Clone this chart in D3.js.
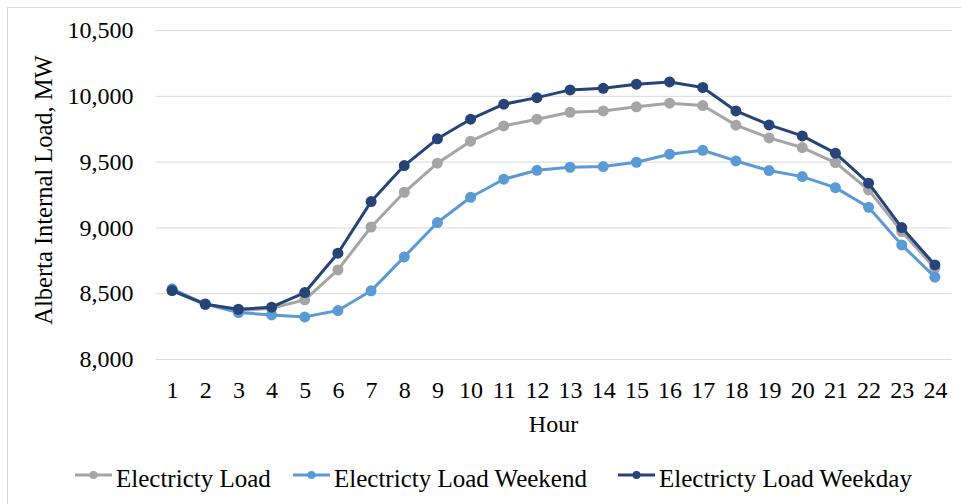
<!DOCTYPE html>
<html>
<head>
<meta charset="utf-8">
<script src="https://cdn.jsdelivr.net/npm/d3@7"></script>
<style>
  html, body { margin: 0; padding: 0; background: #fff; }
  svg { display: block; }
  svg text { font-family: "Liberation Serif", "Times New Roman", serif !important; fill: #000; }
</style>
</head>
<body>
<svg id="chart" width="961" height="504"></svg>
<script>
// Hourly Alberta internal load profile (MW)
const hours = d3.range(1, 25);
const yTicks = [8000, 8500, 9000, 9500, 10000, 10500];

const loadAll = [8522, 8418, 8368, 8385, 8450, 8677, 9003, 9267, 9488, 9655, 9771, 9822,
                 9875, 9885, 9916, 9944, 9926, 9777, 9680, 9607, 9493, 9285, 8968, 8690];
const loadWeekend = [8533, 8418, 8353, 8335, 8320, 8368, 8518, 8776, 9037, 9229, 9366, 9434,
                     9457, 9462, 9495, 9556, 9586, 9505, 9432, 9386, 9302, 9153, 8867, 8622];
const loadWeekday = [8520, 8416, 8378, 8394, 8505, 8804, 9196, 9470, 9673, 9822, 9936, 9986,
                     10045, 10057, 10088, 10105, 10063, 9885, 9779, 9695, 9564, 9336, 8999, 8715];

const seriesNames = ["Electricty Load", "Electricty Load Weekend", "Electricty Load Weekday"];
const seriesValues = [loadAll, loadWeekend, loadWeekday];
const seriesColors = ["#A5A5A5", "#5B9BD5", "#264478"];

const svg = d3.select("#chart");
const plot = { left: 155.5, right: 951.5, top: 30, bottom: 359 };

// outer chart border
svg.append("rect")
  .attr("x", 7.5).attr("y", 7.5)
  .attr("width", 1000).attr("height", 1000)
  .attr("fill", "none").attr("stroke", "#d9d9d9").attr("stroke-width", 1);

const x = d3.scalePoint().domain(hours).range([plot.left, plot.right]).padding(0.5);
const y = d3.scaleLinear().domain([8000, 10500]).range([plot.bottom, plot.top]);

// horizontal gridlines + y tick labels
const yAxis = d3.axisLeft(y).tickValues(yTicks)
  .tickSize(-(plot.right - plot.left))
  .tickPadding(22)
  .tickFormat(d3.format(","));
const gy = svg.append("g").attr("transform", `translate(${plot.left},0)`).call(yAxis)
  .attr("font-family", null).attr("font-size", 24);
gy.select(".domain").remove();
gy.selectAll(".tick line").attr("stroke", "#d9d9d9").attr("stroke-width", 1);

// x tick labels
const xAxis = d3.axisBottom(x).tickSize(0).tickPadding(22);
const gx = svg.append("g").attr("transform", `translate(0,${plot.bottom})`).call(xAxis)
  .attr("font-family", null).attr("font-size", 24);
gx.select(".domain").remove();

// axis titles
svg.append("text")
  .attr("x", (plot.left + plot.right) / 2).attr("y", 432)
  .attr("text-anchor", "middle").attr("font-size", 24).text("Hour");
svg.append("text")
  .attr("transform", "translate(52,190) rotate(-90)")
  .attr("text-anchor", "middle").attr("font-size", 24.5).text("Alberta Internal Load, MW");

// series lines and markers
const line = d3.line().x((d, i) => x(hours[i])).y(d => y(d));
seriesValues.forEach((vals, s) => {
  const g = svg.append("g");
  g.append("path").datum(vals)
    .attr("d", line).attr("fill", "none")
    .attr("stroke", seriesColors[s]).attr("stroke-width", 3)
    .attr("stroke-linejoin", "round");
  g.selectAll("circle").data(vals).join("circle")
    .attr("cx", (d, i) => x(hours[i])).attr("cy", d => y(d))
    .attr("r", 5.5).attr("fill", seriesColors[s]);
});

// legend
const legendStarts = [75, 293, 618];
const legendY = 475;
seriesNames.forEach((name, s) => {
  const lx = legendStarts[s];
  const g = svg.append("g");
  g.append("line").attr("x1", lx).attr("x2", lx + 37)
    .attr("y1", legendY).attr("y2", legendY)
    .attr("stroke", seriesColors[s]).attr("stroke-width", 3);
  g.append("circle").attr("cx", lx + 18.5).attr("cy", legendY).attr("r", 4)
    .attr("fill", seriesColors[s]);
  g.append("text").attr("x", lx + 41).attr("y", legendY + 11.5)
    .attr("font-size", 25).text(name);
});
</script>
</body>
</html>
